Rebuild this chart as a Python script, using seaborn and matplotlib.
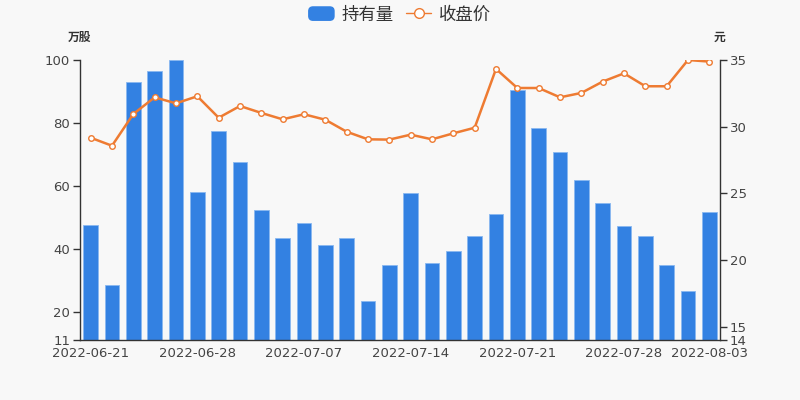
import numpy as np
import pandas as pd
import matplotlib
matplotlib.use("Agg")
import matplotlib.pyplot as plt
import seaborn as sns
from matplotlib.lines import Line2D
from matplotlib.patches import Patch, FancyBboxPatch
from matplotlib.legend_handler import HandlerPatch

dates = ["2022-06-21", "2022-06-22", "2022-06-23", "2022-06-24", "2022-06-27",
         "2022-06-28", "2022-06-29", "2022-06-30", "2022-07-01", "2022-07-05",
         "2022-07-07", "2022-07-08", "2022-07-11", "2022-07-12", "2022-07-13",
         "2022-07-14", "2022-07-15", "2022-07-18", "2022-07-19", "2022-07-20",
         "2022-07-21", "2022-07-22", "2022-07-25", "2022-07-26", "2022-07-27",
         "2022-07-28", "2022-07-29", "2022-08-01", "2022-08-02", "2022-08-03"]
holdings = [47.5, 28.5, 92.9, 96.6, 100.0, 57.9, 77.3, 67.7, 52.3, 43.3,
            48.1, 41.2, 43.4, 23.4, 34.7, 57.6, 35.6, 39.4, 44.2, 51.0,
            90.5, 78.4, 70.8, 61.8, 54.5, 47.1, 44.1, 34.8, 26.5, 51.6]
close = [29.17, 28.57, 30.95, 32.2, 31.75, 32.28, 30.67, 31.55, 31.03, 30.55,
         30.93, 30.52, 29.62, 29.05, 29.03, 29.4, 29.05, 29.5, 29.92, 34.33,
         32.9, 32.9, 32.2, 32.53, 33.38, 34.0, 33.03, 33.03, 35.0, 34.88]
left_ticks = [11, 20, 40, 60, 80, 100]
right_ticks = [14, 15, 20, 25, 30, 35]
label_every = 5

BLUE = "#3381e2"
ORANGE = "#ee7b32"
TXT = "#333333"
TICKTXT = "#444444"
BG = "#f8f8f8"

sns.set_style("white")
plt.rcParams['font.family'] = ['Noto Sans CJK SC', 'DejaVu Sans']
TICKFONT = dict(family="DejaVu Sans", size=9.5)

df = pd.DataFrame({"date": dates, "holdings": holdings, "close": close,
                   "pos": np.arange(len(dates))})

fig = plt.figure(figsize=(8, 4), dpi=100, facecolor=BG)
ax = fig.add_axes([0.1, 0.15, 0.8, 0.7])
ax.set_facecolor(BG)

sns.barplot(data=df, x="pos", y="holdings", color=BLUE, saturation=1,
            width=0.7, ax=ax, edgecolor="#8ab8f0", linewidth=0.6)
ax.set_ylim(left_ticks[0], left_ticks[-1])
ax.set_xlim(-0.5, len(dates) - 0.5)
ax.set_yticks(left_ticks)
ax.set_yticklabels([str(t) for t in left_ticks], fontdict=TICKFONT)
ax.set_xlabel("")
ax.set_ylabel("")

ax2 = ax.twinx()
sns.lineplot(data=df, x="pos", y="close", color=ORANGE, linewidth=1.8,
             marker="o", markersize=4, markerfacecolor="white",
             markeredgecolor=ORANGE, markeredgewidth=1, ax=ax2)
ax2.set_ylim(right_ticks[0], right_ticks[-1])
ax2.set_yticks(right_ticks)
ax2.set_yticklabels([str(t) for t in right_ticks], fontdict=TICKFONT)
ax2.set_xlim(-0.5, len(dates) - 0.5)
ax2.set_xlabel("")
ax2.set_ylabel("")

# x ticks: labels at bar centers, tick marks at band boundaries
label_pos = list(range(0, len(dates), label_every))
if (len(dates) - 1) not in label_pos:
    label_pos.append(len(dates) - 1)
ax.set_xticks(label_pos)
ax.set_xticklabels([dates[i] for i in label_pos], fontdict=TICKFONT)
ax.tick_params(axis="x", length=0, pad=5, labelcolor=TICKTXT)
ax.set_xticks([p - 0.5 for p in label_pos], minor=True)
ax.tick_params(axis="x", which="minor", length=5, color=TXT, width=1)

ax.tick_params(axis="y", length=5, color=TXT, width=1,
               labelcolor=TICKTXT, pad=2, left=True)
ax2.tick_params(axis="y", length=5, color=TXT, width=1,
                labelcolor=TICKTXT, pad=2, right=True)

ax.spines["top"].set_visible(False)
ax2.spines["top"].set_visible(False)
ax.spines["right"].set_visible(False)
ax2.spines["left"].set_visible(False)
ax2.spines["bottom"].set_visible(False)
for s in (ax.spines["left"], ax.spines["bottom"], ax2.spines["right"]):
    s.set_color(TXT)
    s.set_linewidth(1)

fig.text(0.1, 0.907, "万股", ha="center", va="center", fontsize=8.5,
         fontweight="bold", color=TXT)
fig.text(0.9, 0.907, "元", ha="center", va="center", fontsize=8.5,
         fontweight="bold", color=TXT)


def rounded_box(legend, orig_handle, xdescent, ydescent, width, height, fontsize):
    return FancyBboxPatch((-xdescent, -ydescent), width, height,
                          boxstyle="round,pad=0,rounding_size=3")


handles = [Patch(facecolor=BLUE, edgecolor=BLUE, label="持有量"),
           Line2D([0], [0], color=ORANGE, linewidth=1, marker="o",
                  markersize=7, markerfacecolor="white",
                  markeredgecolor=ORANGE, label="收盘价")]
leg = fig.legend(handles=handles, loc="upper center", bbox_to_anchor=(0.5, 1.025),
                 ncol=2, frameon=False, fontsize=12.5, handlelength=1.45,
                 handleheight=0.8, handletextpad=0.45, columnspacing=0.7,
                 handler_map={Patch: HandlerPatch(patch_func=rounded_box)})
for t in leg.get_texts():
    t.set_color(TXT)

fig.savefig("out.png", dpi=100, facecolor=BG)
